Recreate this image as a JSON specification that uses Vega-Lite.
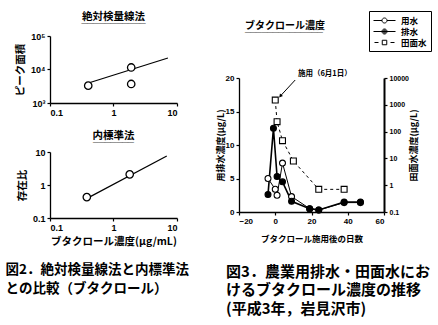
{
  "$schema": "https://vega.github.io/schema/vega-lite/v6.json",
  "background": "white",
  "padding": {"left": 5, "top": 10, "right": 0, "bottom": 0},
  "config": {
    "font": "Noto Sans CJK JP",
    "view": {"stroke": null},
    "axis": {"grid": false, "domainColor": "black", "tickColor": "black", "labelColor": "black", "titleColor": "black", "labelFont": "Liberation Sans", "labelFontWeight": "bold", "titleFont": "Noto Sans CJK JP", "titleFontWeight": "bold", "domainWidth": 1.3, "tickWidth": 1.2, "tickSize": 3, "labelFontSize": 9, "titleFontSize": 10},
    "title": {"font": "Noto Sans CJK JP", "fontWeight": "bold", "color": "black", "subtitleColor": "black", "subtitleFont": "Liberation Sans", "subtitleFontWeight": "bold"},
    "legend": {"labelFont": "Noto Sans CJK JP", "labelFontWeight": "bold", "labelColor": "black"}
  },
  "spacing": 26,
  "hconcat": [
    {
      "spacing": 14,
      "title": {"text": ["図2．絶対検量線法と内標準法", "　　との比較（ブタクロール）"], "orient": "bottom", "anchor": "start", "frame": "bounds", "dx": -10, "fontSize": 13.5, "offset": 16, "lineHeight": 19},
      "vconcat": [
        {
          "width": 127,
          "height": 67,
          "title": {"text": "絶対検量線法", "subtitle": "___________", "fontSize": 10.5, "subtitleFontSize": 10.5, "subtitlePadding": -9, "offset": 8},
          "encoding": {
            "x": {"field": "conc", "type": "quantitative", "scale": {"type": "log", "domain": [0.1, 10]}, "axis": {"values": [0.1, 1, 10], "format": "~g", "title": null}},
            "y": {"field": "area", "type": "quantitative", "scale": {"type": "log", "domain": [1000, 100000]}, "axis": {"values": [1000, 10000, 100000], "labelExpr": "datum.value >= 99999 ? '10⁵' : datum.value >= 9999 ? '10⁴' : '10³'", "title": "ピーク面積", "titleFontSize": 10.5, "titlePadding": 5}}
          },
          "layer": [
            {"data": {"values": [{"conc": 0.36, "area": 3700}, {"conc": 7.2, "area": 22000}]}, "mark": {"type": "line", "color": "black", "strokeWidth": 1.2}},
            {"data": {"values": [{"conc": 0.4, "area": 3300}, {"conc": 1.9, "area": 11500}, {"conc": 1.9, "area": 3700}]}, "mark": {"type": "point", "filled": true, "fill": "white", "stroke": "black", "strokeWidth": 1.3, "size": 55, "opacity": 1}}
          ]
        },
        {
          "width": 127,
          "height": 66,
          "title": {"text": "内標準法", "subtitle": "_______", "fontSize": 10.5, "subtitleFontSize": 10.5, "subtitlePadding": -9, "offset": 5},
          "encoding": {
            "x": {"field": "conc", "type": "quantitative", "scale": {"type": "log", "domain": [0.1, 10]}, "axis": {"values": [0.1, 1, 10], "format": "~g", "title": "ブタクロール濃度(μg/mL)", "titleFontSize": 10.5}},
            "y": {"field": "ratio", "type": "quantitative", "scale": {"type": "log", "domain": [0.1, 10]}, "axis": {"values": [0.1, 1, 10], "format": "~g", "title": "存在比", "titleFontSize": 10.5, "titlePadding": 5}}
          },
          "layer": [
            {"data": {"values": [{"conc": 0.37, "ratio": 0.38}, {"conc": 6.9, "ratio": 7.6}]}, "mark": {"type": "line", "color": "black", "strokeWidth": 1.2}},
            {"data": {"values": [{"conc": 0.38, "ratio": 0.43}, {"conc": 1.8, "ratio": 2.1}]}, "mark": {"type": "point", "filled": true, "fill": "white", "stroke": "black", "strokeWidth": 1.3, "size": 55, "opacity": 1}}
          ]
        }
      ]
    },
    {
      "spacing": 17,
      "title": {"text": ["図3．農業用排水・田面水にお", "　けるブタクロール濃度の推移", "　(平成3年，岩見沢市)"], "orient": "bottom", "anchor": "start", "frame": "bounds", "dx": 10, "fontSize": 15, "offset": 22, "lineHeight": 18.5},
      "resolve": {"scale": {"shape": "independent", "fill": "independent"}, "legend": {"shape": "independent", "fill": "independent"}},
      "vconcat": [
        {
          "width": 145,
          "height": 1,
          "title": {"text": "ブタクロール濃度", "subtitle": "______________", "anchor": "start", "dx": 6, "fontSize": 10, "subtitleFontSize": 10, "subtitlePadding": -8.5, "offset": -22},
          "data": {"values": []},
          "mark": {"type": "point", "filled": false, "color": "black", "strokeWidth": 1, "opacity": 1},
          "encoding": {
            "shape": {"field": "series", "type": "nominal", "scale": {"domain": ["用水", "排水", "田面水"], "range": ["M-2.2,0H-0.5M0.5,0H2.2M0.5,0A0.5,0.5,0,1,1,-0.5,0A0.5,0.5,0,1,1,0.5,0Z", "M-2.2,0H2.2M0.5,0A0.5,0.5,0,1,1,-0.5,0A0.5,0.5,0,1,1,0.5,0ZM0.32,0A0.32,0.32,0,1,1,-0.32,0A0.32,0.32,0,1,1,0.32,0ZM0.14,0A0.14,0.14,0,1,1,-0.14,0A0.14,0.14,0,1,1,0.14,0Z", "M-2.0,0H-1.2M1.2,0H2.0M-0.45,-0.45H0.45V0.45H-0.45Z"]},
              "legend": {"title": null, "orient": "none", "legendX": 130, "legendY": -25, "strokeColor": "black", "padding": 4, "symbolSize": 100, "symbolOffset": 6, "labelOffset": 11, "labelFontSize": 8.5, "rowPadding": 1, "symbolStrokeColor": "black", "symbolStrokeWidth": 1}}
          }
        },
        {
          "width": 145,
          "height": 134,
          "encoding": {
            "x": {"field": "day", "type": "quantitative", "scale": {"domain": [-20, 60]}, "axis": {"values": [-20, 0, 20, 40, 60], "title": "ブタクロール施用後の日数", "labelFontSize": 8, "titleFontSize": 8.5, "titlePadding": 9}}
          },
          "layer": [
            {
              "encoding": {
                "y": {"field": "v", "type": "quantitative", "scale": {"domain": [0, 20]}, "axis": {"values": [0, 5, 10, 15, 20], "title": "用排水濃度(μg/L)", "labelFontSize": 8, "titleFontSize": 9, "titlePadding": 0}}
              },
              "layer": [
                {
                  "data": {"name": "d1", "values": [
                    {"series": "用水", "day": -4, "v": 5.0},
                    {"series": "用水", "day": 0, "v": 3.4},
                    {"series": "用水", "day": 1, "v": 2.5},
                    {"series": "用水", "day": 4, "v": 7.3},
                    {"series": "用水", "day": 9, "v": 2.3},
                    {"series": "用水", "day": 19, "v": 0.5},
                    {"series": "用水", "day": 24, "v": 0.3},
                    {"series": "用水", "day": 38, "v": 1.4},
                    {"series": "用水", "day": 47, "v": 1.4},
                    {"series": "排水", "day": -4, "v": 2.6},
                    {"series": "排水", "day": -1, "v": 12.5},
                    {"series": "排水", "day": 1, "v": 5.3},
                    {"series": "排水", "day": 4, "v": 4.5},
                    {"series": "排水", "day": 9, "v": 1.6},
                    {"series": "排水", "day": 19, "v": 0.5},
                    {"series": "排水", "day": 24, "v": 0.3},
                    {"series": "排水", "day": 38, "v": 1.5},
                    {"series": "排水", "day": 47, "v": 1.5}
                  ]},
                  "mark": {"type": "line", "color": "black"},
                  "encoding": {"strokeWidth": {"field": "series", "type": "nominal", "scale": {"domain": ["用水", "排水"], "range": [1, 1.6]}, "legend": null}}
                },
                {
                  "data": {"name": "d1"},
                  "mark": {"type": "point", "filled": true, "stroke": "black", "strokeWidth": 1.1, "size": 35, "opacity": 1},
                  "encoding": {
                    "shape": {"field": "series", "type": "nominal", "scale": {"domain": ["用水", "排水", "田面水"], "range": ["circle", "circle", "square"]}, "legend": null},
                    "fill": {"field": "series", "type": "nominal", "scale": {"domain": ["用水", "排水", "田面水"], "range": ["white", "black", "white"]}, "legend": null}
                  }
                },
                {
                  "data": {"values": [{"day": 12.5, "v": 20.6, "label": "施用（6月1日）"}]},
                  "mark": {"type": "text", "align": "left", "baseline": "middle", "fontSize": 7.5, "fontWeight": "bold", "color": "black"},
                  "encoding": {"text": {"field": "label"}}
                },
                {
                  "data": {"values": [{"day": 11, "v": 19.7, "day2": 2.8, "v2": 17.3}]},
                  "mark": {"type": "rule", "color": "black", "strokeWidth": 1},
                  "encoding": {"x2": {"field": "day2"}, "y2": {"field": "v2"}}
                },
                {
                  "data": {"values": [{"day": 2.8, "v": 17.3}]},
                  "mark": {"type": "point", "shape": "triangle-up", "angle": 221, "filled": true, "color": "black", "size": 16, "opacity": 1}
                }
              ]
            },
            {
              "encoding": {
                "y": {"field": "v", "type": "quantitative", "scale": {"type": "log", "domain": [0.1, 10000]}, "axis": {"orient": "right", "values": [0.1, 1, 10, 100, 1000, 10000], "format": "~g", "title": "田面水濃度(μg/L)", "titleAngle": 270, "labelFontSize": 7, "titleFontSize": 9, "domainWidth": 2, "tickSize": 3, "titlePadding": 10}}
              },
              "layer": [
                {
                  "data": {"name": "d2", "values": [
                    {"series": "田面水", "day": 0, "v": 1500},
                    {"series": "田面水", "day": 1, "v": 235},
                    {"series": "田面水", "day": 4, "v": 46},
                    {"series": "田面水", "day": 10, "v": 8},
                    {"series": "田面水", "day": 24, "v": 0.7},
                    {"series": "田面水", "day": 38, "v": 0.7}
                  ]},
                  "mark": {"type": "line", "color": "black", "strokeDash": [3, 3], "strokeWidth": 1}
                },
                {
                  "data": {"name": "d2"},
                  "mark": {"type": "point", "filled": true, "stroke": "black", "strokeWidth": 1.1, "size": 35, "opacity": 1},
                  "encoding": {
                    "shape": {"field": "series", "type": "nominal", "scale": {"domain": ["用水", "排水", "田面水"], "range": ["circle", "circle", "square"]}, "legend": null},
                    "fill": {"field": "series", "type": "nominal", "scale": {"domain": ["用水", "排水", "田面水"], "range": ["white", "black", "white"]}, "legend": null}
                  }
                }
              ]
            }
          ],
          "resolve": {"scale": {"y": "independent"}}
        }
      ]
    }
  ]
}
